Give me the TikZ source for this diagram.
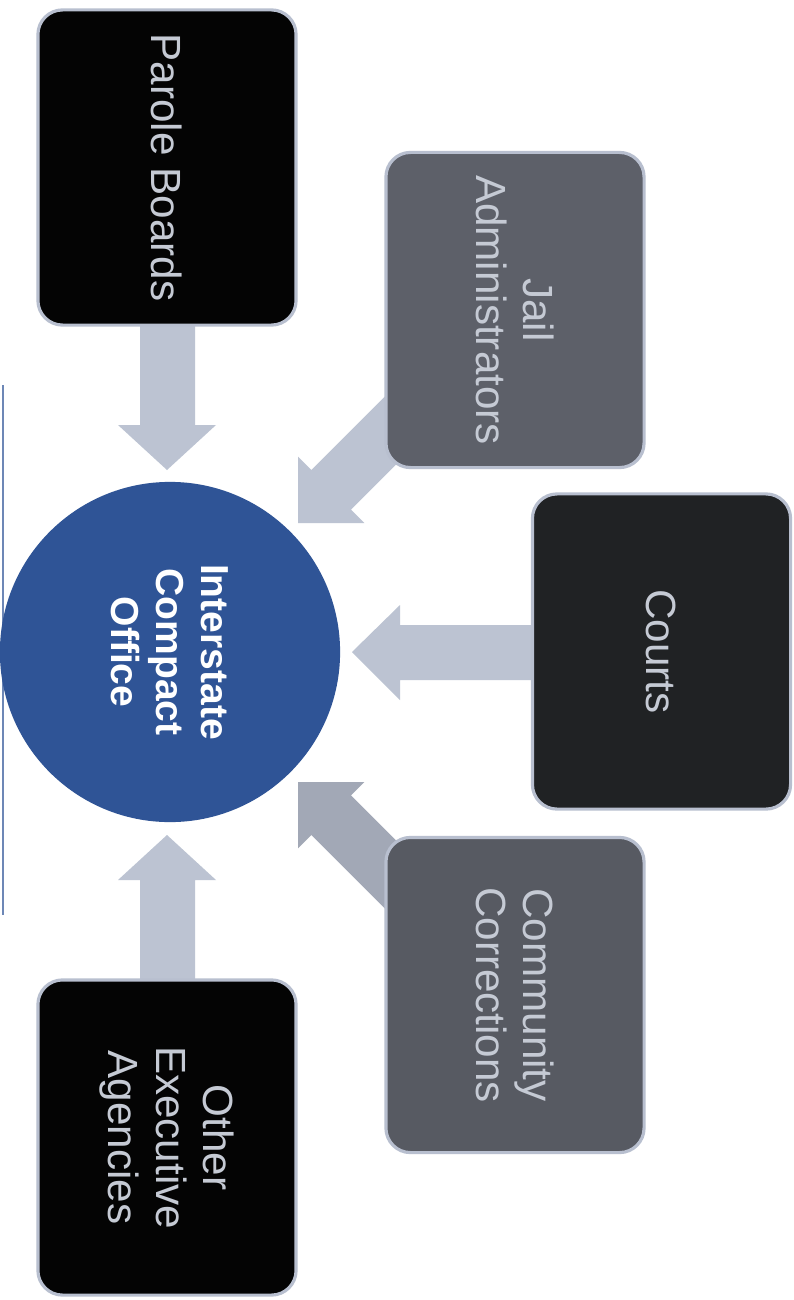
\documentclass[tikz,border=0pt]{standalone}
\usepackage{fontspec}
\setmainfont{Liberation Sans}
\definecolor{icblue}{HTML}{2F5496}
\definecolor{bordercol}{HTML}{B8BFCF}
\definecolor{txtcol}{HTML}{C5CAD4}
\definecolor{arrowlight}{HTML}{BCC3D2}
\definecolor{arrowdark}{HTML}{A2A8B6}
\definecolor{fillblack}{HTML}{040404}
\definecolor{filljail}{HTML}{5D6069}
\definecolor{fillcourts}{HTML}{202224}
\definecolor{fillcomm}{HTML}{575A62}
\begin{document}
\begin{tikzpicture}[x=0.01cm,y=-0.01cm,
  box/.style={rectangle, rounded corners=7pt, line width=0.9pt, draw=bordercol,
    text=txtcol, rotate=-90, minimum width=3.15cm, minimum height=2.58cm,
    align=center, inner sep=0pt, font=\fontsize{12}{13.4}\selectfont},
  hub/.style={circle, fill=icblue, minimum size=3.4cm, inner sep=0pt, text=white,
    rotate=-90, align=center, font=\bfseries\fontsize{11.1}{12.8}\selectfont},
  blockarrow/.style={fill=arrowlight},
  blockarrowdark/.style={fill=arrowdark}]
\useasboundingbox[fill=white] (0,0) rectangle (794,1300);

% left thin line
\draw[icblue!70, line width=0.4pt] (3,385) -- (3,915);

% block arrows (drawn beneath the boxes)
\fill[blockarrow] (140,300) -- (195,300) -- (195,425) -- (216,425) -- (167,470)
  -- (118,425) -- (140,425) -- cycle;
\fill[blockarrow] (140,1005) -- (195,1005) -- (195,880) -- (216,880) -- (167,835)
  -- (118,880) -- (140,880) -- cycle;
\fill[blockarrow] (560,625) -- (560,680) -- (400,680) -- (400,700) -- (352,652)
  -- (400,605) -- (400,625) -- cycle;
\fill[blockarrow] (400.2,381.2) -- (439.8,420.8) -- (351,509.6) -- (364.4,523)
  -- (298,523) -- (298,456.6) -- (311.4,470) -- cycle;
\fill[blockarrowdark] (439.8,884.2) -- (400.2,923.8) -- (311.4,835) -- (298,848.4)
  -- (298,782) -- (364.4,782) -- (351,795.4) -- cycle;

% boxes
\node[box, fill=fillblack] (parole) at (167,167.5) {Parole Boards};
\node[box, fill=filljail] (jail) at (515,310) {Jail\\Administrators};
\node[box, fill=fillcourts] (courts) at (661.5,651.5) {Courts};
\node[box, fill=fillcomm] (comm) at (515,995) {Community\\Corrections};
\node[box, fill=fillblack] (other) at (167,1137.5) {Other\\Executive\\Agencies};

% hub
\node[hub] (ico) at (170,652) {Interstate\\Compact\\Office};
\end{tikzpicture}
\end{document}
